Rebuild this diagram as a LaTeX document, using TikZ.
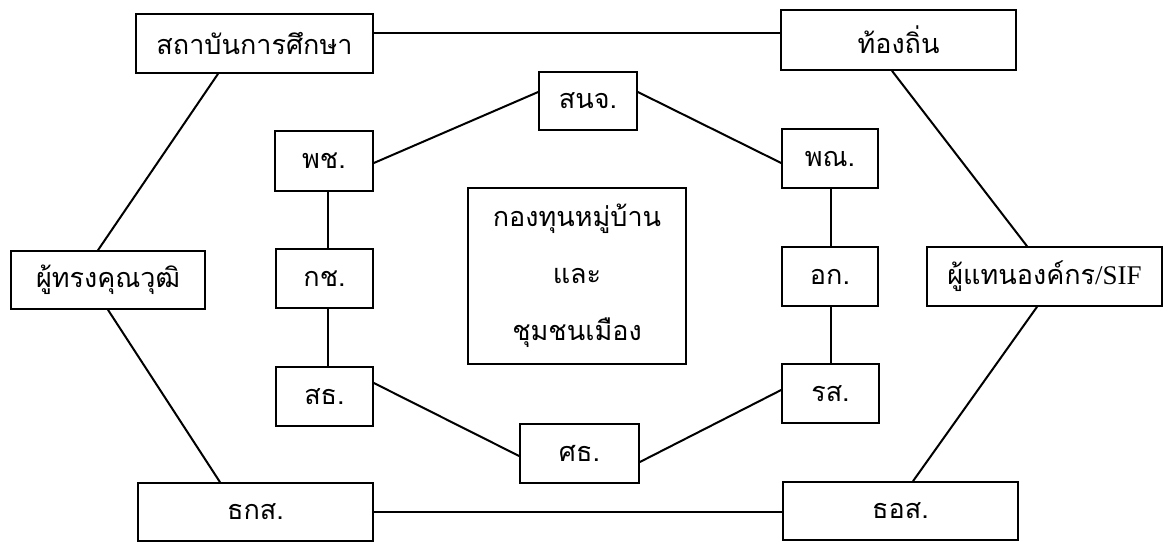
\documentclass[tikz,border=0pt]{standalone}
\usepackage{fontspec}
\newfontfamily\thaifont[Script=Thai]{Loma}
\newfontfamily\latinserif{Liberation Serif}
\begin{document}
\begin{tikzpicture}[x=1pt,y=-1pt,
  box/.style={draw,line width=1.7pt,rectangle,inner sep=0pt,font=\thaifont\fontsize{27}{32}\selectfont},
  conn/.style={line width=2pt}]
\useasboundingbox (0,0) rectangle (1164,542);
\node[box,minimum width=237pt,minimum height=59pt] (inst) at (254.5,43.5) {สถาบันการศึกษา};
\node[box,minimum width=235pt,minimum height=60pt] (local) at (898.5,40) {ท้องถิ่น};
\node[box,minimum width=98pt,minimum height=58pt] (snj) at (588,101) {สนจ.};
\node[box,minimum width=98pt,minimum height=60pt] (pch) at (324,161) {พช.};
\node[box,minimum width=96pt,minimum height=59pt] (pn) at (830,158.5) {พณ.};
\node[box,minimum width=218pt,minimum height=176pt,align=center,font=\thaifont\fontsize{27}{57}\selectfont] (fund) at (577,276) {กองทุนหมู่บ้าน\\และ\\ชุมชนเมือง};
\node[box,minimum width=194pt,minimum height=58pt] (expert) at (108,280) {ผู้ทรงคุณวุฒิ};
\node[box,minimum width=97pt,minimum height=59pt] (kch) at (324.5,278.5) {กช.};
\node[box,minimum width=97pt,minimum height=59pt] (sth) at (324.5,396.5) {สธ.};
\node[box,minimum width=235pt,minimum height=58pt] (baac) at (255.5,512) {ธกส.};
\node[box,minimum width=96pt,minimum height=59pt] (ok) at (830,276.5) {อก.};
\node[box,minimum width=235pt,minimum height=59pt] (sif) at (1044.5,276.5) {ผู้แทนองค์กร{\latinserif/SIF}};
\node[box,minimum width=97pt,minimum height=59pt] (rs) at (830.5,393.5) {รส.};
\node[box,minimum width=235pt,minimum height=58pt] (ghb) at (900.5,511) {ธอส.};
\node[box,minimum width=119pt,minimum height=59pt] (edu) at (579.5,453.5) {ศธ.};
% outer ring
\draw[conn] ([yshift=10.5pt]inst.east) -- ([yshift=7pt]local.west);
\draw[conn] ([xshift=-36.5pt]inst.south) -- ([xshift=-10pt]expert.north);
\draw[conn] (expert.south) -- ([xshift=-35.5pt]baac.north);
\draw[conn] (baac.east) -- (baac.east -| ghb.west);
\draw[conn] ([xshift=12.5pt]ghb.north) -- ([xshift=-7.5pt]sif.south);
\draw[conn] ([xshift=-17.5pt]sif.north) -- ([xshift=-6.5pt]local.south);
% inner ring
\draw[conn] ([yshift=-2pt]pch.east) -- ([yshift=9pt]snj.west);
\draw[conn] ([yshift=9pt]snj.east) -- ([yshift=-4.5pt]pn.west);
\draw[conn] ([xshift=4pt]pch.south) -- ([xshift=3.5pt]kch.north);
\draw[conn] ([xshift=3.5pt]kch.south) -- ([xshift=3.5pt]sth.north);
\draw[conn] ([yshift=13.5pt]sth.east) -- ([yshift=-2.5pt]edu.west);
\draw[conn] ([yshift=-8.5pt]edu.east) -- ([yshift=3.5pt]rs.west);
\draw[conn] ([xshift=1pt]pn.south) -- ([xshift=1pt]ok.north);
\draw[conn] ([xshift=1pt]ok.south) -- ([xshift=0.5pt]rs.north);
\end{tikzpicture}
\end{document}
